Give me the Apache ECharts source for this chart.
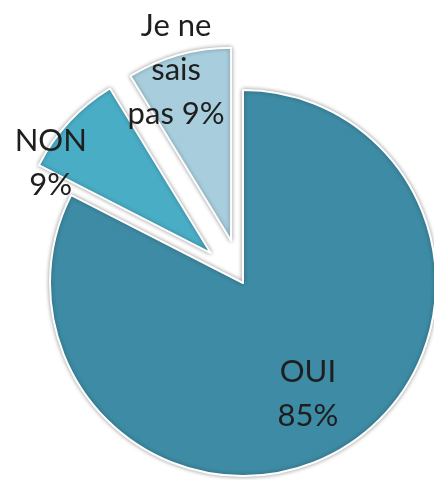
<!DOCTYPE html>
<html>
<head>
<meta charset="utf-8" />
<title>OUI / NON</title>
<script src="https://cdn.jsdelivr.net/npm/echarts@6/dist/echarts.min.js"></script>
<style>
  html, body { margin: 0; padding: 0; background: #fff; }
  #chartmain { width: 434px; height: 480px; }
</style>
</head>
<body>
<div id="chartmain"></div>
<script type="text/javascript">
  // donnees
  var categories = ['OUI', 'NON', 'Je ne sais pas'];
  var labelNames = ['OUI', 'NON', 'Je ne\nsais\npas'];
  var values = [85, 9, 9];
  var exploded = [false, true, true];
  var colors = ['#3d8ba4', '#4aadc6', '#a8cedd'];
  // decalage des etiquettes (px) par rapport a la position "inside"
  var labelOffsets = [[13, 26], [-87, -22], [-28, -75]];

  var pieData = [];
  for (var i = 0; i < categories.length; i++) {
    pieData.push({
      name: categories[i],
      value: values[i],
      selected: exploded[i],
      itemStyle: { color: colors[i] },
      label: { offset: labelOffsets[i] },
      select: { label: { offset: labelOffsets[i] }, itemStyle: { color: colors[i] } }
    });
  }

  var myChart = echarts.init(document.getElementById('chartmain'));
  var option = {
    backgroundColor: '#fff',
    animation: false,
    series: [
      {
        type: 'pie',
        center: [243, 283],
        radius: 193,
        startAngle: 90,
        clockwise: true,
        selectedMode: 'multiple',
        selectedOffset: 44,
        itemStyle: {
          borderColor: '#fff',
          borderWidth: 2,
          shadowBlur: 4,
          shadowColor: 'rgba(0,0,0,0.35)'
        },
        select: {
          itemStyle: {
            borderColor: '#fff',
            borderWidth: 2
          }
        },
        emphasis: { disabled: true },
        label: {
          show: true,
          position: 'inside',
          fontFamily: 'Lato',
          fontSize: 31,
          lineHeight: 44,
          color: '#1e1e1e',
          align: 'center',
          formatter: function (p) {
            var n = labelNames[p.dataIndex];
            var sep = n.indexOf('\n') >= 0 ? ' ' : '\n';
            return n + sep + p.value + '%';
          }
        },
        labelLine: { show: false },
        data: pieData
      }
    ]
  };
  myChart.setOption(option);
</script>
</body>
</html>
